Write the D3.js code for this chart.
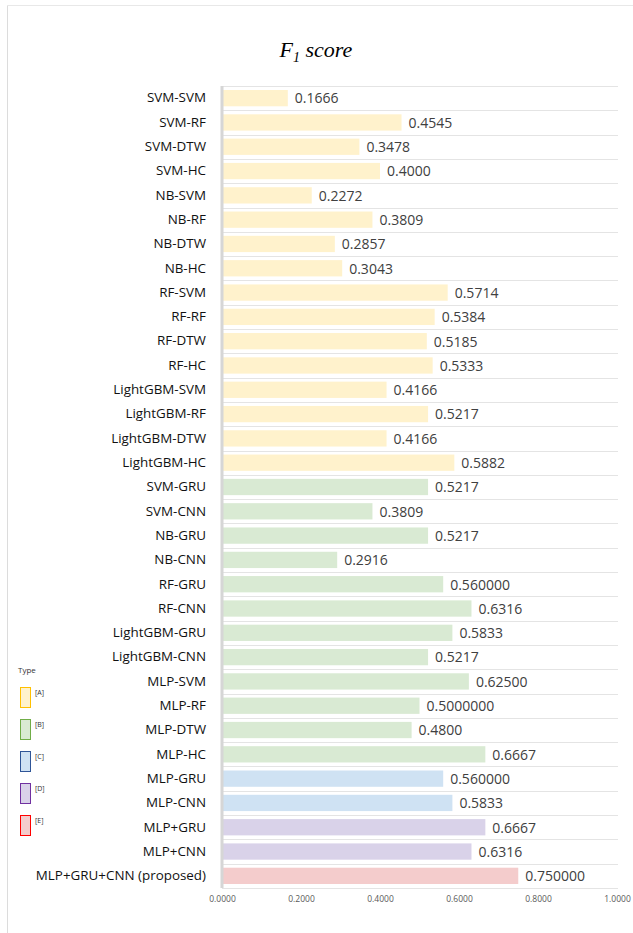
<!DOCTYPE html>
<html>
<head>
<meta charset="utf-8">
<script src="https://cdn.jsdelivr.net/npm/d3@7"></script>
<style>
  body { margin: 0; background: #fff; }
  svg { display: block; }
</style>
</head>
<body>
<div class="chart"></div>
<script>
var svgWidth = 633;
var svgHeight = 933;

// data
var models = ["SVM-SVM", "SVM-RF", "SVM-DTW", "SVM-HC", "NB-SVM", "NB-RF", "NB-DTW", "NB-HC",
  "RF-SVM", "RF-RF", "RF-DTW", "RF-HC", "LightGBM-SVM", "LightGBM-RF", "LightGBM-DTW", "LightGBM-HC",
  "SVM-GRU", "SVM-CNN", "NB-GRU", "NB-CNN", "RF-GRU", "RF-CNN", "LightGBM-GRU", "LightGBM-CNN",
  "MLP-SVM", "MLP-RF", "MLP-DTW", "MLP-HC", "MLP-GRU", "MLP-CNN", "MLP+GRU", "MLP+CNN",
  "MLP+GRU+CNN (proposed)"];
var scores = [0.1666, 0.4545, 0.3478, 0.4000, 0.2272, 0.3809, 0.2857, 0.3043,
  0.5714, 0.5384, 0.5185, 0.5333, 0.4166, 0.5217, 0.4166, 0.5882,
  0.5217, 0.3809, 0.5217, 0.2916, 0.56, 0.6316, 0.5833, 0.5217,
  0.625, 0.5, 0.48, 0.6667, 0.56, 0.5833, 0.6667, 0.6316,
  0.75];
var scoreLabels = ["0.1666", "0.4545", "0.3478", "0.4000", "0.2272", "0.3809", "0.2857", "0.3043",
  "0.5714", "0.5384", "0.5185", "0.5333", "0.4166", "0.5217", "0.4166", "0.5882",
  "0.5217", "0.3809", "0.5217", "0.2916", "0.560000", "0.6316", "0.5833", "0.5217",
  "0.62500", "0.5000000", "0.4800", "0.6667", "0.560000", "0.5833", "0.6667", "0.6316",
  "0.750000"];
var types = ["A", "A", "A", "A", "A", "A", "A", "A", "A", "A", "A", "A", "A", "A", "A", "A",
  "B", "B", "B", "B", "B", "B", "B", "B", "B", "B", "B", "B",
  "C", "C", "D", "D", "E"];
var typeNames = ["A", "B", "C", "D", "E"];
var xTicks = [0, 0.2, 0.4, 0.6, 0.8, 1.0];

var fillColor = d3.scaleOrdinal()
  .domain(typeNames)
  .range(["#fff2cc", "#d9ead3", "#cfe2f3", "#d9d2e9", "#f4cccc"]);
var strokeColor = d3.scaleOrdinal()
  .domain(typeNames)
  .range(["#ffc000", "#70ad47", "#2f5597", "#7030a0", "#ff0000"]);

var rows = models.map((m, i) => ({ model: m, score: scores[i], label: scoreLabels[i], type: types[i] }));

var margin = { top: 86, right: 15, bottom: 45, left: 222 };

var svg = d3.select(".chart")
  .append("svg")
  .attr("width", svgWidth)
  .attr("height", svgHeight);

// outer frame (top and left edges)
svg.append("line")
  .attr("x1", 7.5).attr("x2", svgWidth).attr("y1", 5.5).attr("y2", 5.5)
  .attr("stroke", "#e8e8e8");
svg.append("line")
  .attr("x1", 7.5).attr("x2", 7.5).attr("y1", 5.5).attr("y2", svgHeight)
  .attr("stroke", "#dcdcdc");

// title
var title = svg.append("text")
  .attr("x", 316)
  .attr("y", 57)
  .attr("text-anchor", "middle")
  .style("font-family", "'Liberation Serif', 'DejaVu Serif', serif")
  .style("font-style", "italic")
  .style("font-size", "22px")
  .attr("fill", "#000");
title.append("tspan").text("F");
title.append("tspan").attr("dy", 5).style("font-size", "14px").text("1");
title.append("tspan").attr("dy", -5).text(" score");

var x = d3.scaleLinear()
  .domain([0, 1])
  .range([margin.left, 617]);

var y = d3.scaleBand()
  .domain(models)
  .range([margin.top, 888])
  .paddingInner(0.33)
  .paddingOuter(0.165);

// row separators
var step = y.step();
svg.append("g")
  .selectAll("line")
  .data(d3.range(models.length + 1))
  .join("line")
  .attr("x1", margin.left)
  .attr("x2", 618)
  .attr("y1", d => Math.round(margin.top + d * step) + 0.5)
  .attr("y2", d => Math.round(margin.top + d * step) + 0.5)
  .attr("stroke", "#e4e4e4")
  .attr("stroke-width", 1.2);

// bars
svg.append("g")
  .selectAll("rect")
  .data(rows)
  .join("rect")
  .attr("x", x(0))
  .attr("y", d => y(d.model))
  .attr("width", d => x(d.score) - x(0))
  .attr("height", y.bandwidth())
  .attr("fill", d => fillColor(d.type));

// value labels
svg.append("g")
  .selectAll("text")
  .data(rows)
  .join("text")
  .attr("x", d => x(d.score) + 7)
  .attr("y", d => y(d.model) + y.bandwidth() / 2)
  .attr("dy", "0.38em")
  .style("font-family", "'Open Sans', sans-serif")
  .style("font-size", "14px")
  .attr("fill", "#404040")
  .text(d => d.label);

// category axis
var leftAxis = d3.axisLeft(y).tickSize(0).tickPadding(16);
var gy = svg.append("g")
  .attr("transform", `translate(${margin.left}, 0)`)
  .call(leftAxis);
gy.select(".domain").remove();
gy.selectAll("text")
  .style("font-family", "'Open Sans', sans-serif")
  .style("font-size", "13.4px")
  .attr("fill", "#111");

// thick vertical axis line
svg.append("line")
  .attr("x1", margin.left).attr("x2", margin.left)
  .attr("y1", margin.top).attr("y2", 888)
  .attr("stroke", "#d6d6d6")
  .attr("stroke-width", 3);

// value axis
var bottomAxis = d3.axisBottom(x)
  .tickValues(xTicks)
  .tickSize(0)
  .tickPadding(0)
  .tickFormat(d3.format(".4f"));
var gx = svg.append("g")
  .attr("transform", "translate(0, 896)")
  .call(bottomAxis);
gx.select(".domain").remove();
gx.selectAll("text")
  .style("font-family", "'Open Sans', sans-serif")
  .style("font-size", "8.5px")
  .attr("fill", "#595959");

// legend
var legend = svg.append("g").attr("transform", "translate(18, 0)");
legend.append("text")
  .attr("x", 0)
  .attr("y", 673)
  .style("font-family", "'Open Sans', sans-serif")
  .style("font-size", "8px")
  .attr("fill", "#333")
  .text("Type");
var items = legend.selectAll("g.item")
  .data(typeNames)
  .join("g")
  .attr("class", "item")
  .attr("transform", (d, i) => `translate(2, ${687 + i * 32})`);
items.append("rect")
  .attr("x", 0.5)
  .attr("y", 0.5)
  .attr("width", 10)
  .attr("height", 20)
  .attr("fill", d => fillColor(d))
  .attr("stroke", d => strokeColor(d))
  .attr("stroke-width", 1);
items.append("text")
  .attr("x", 15)
  .attr("y", 8)
  .style("font-family", "'Open Sans', sans-serif")
  .style("font-size", "7px")
  .attr("fill", "#333")
  .text(d => `[${d}]`);
</script>
</body>
</html>
